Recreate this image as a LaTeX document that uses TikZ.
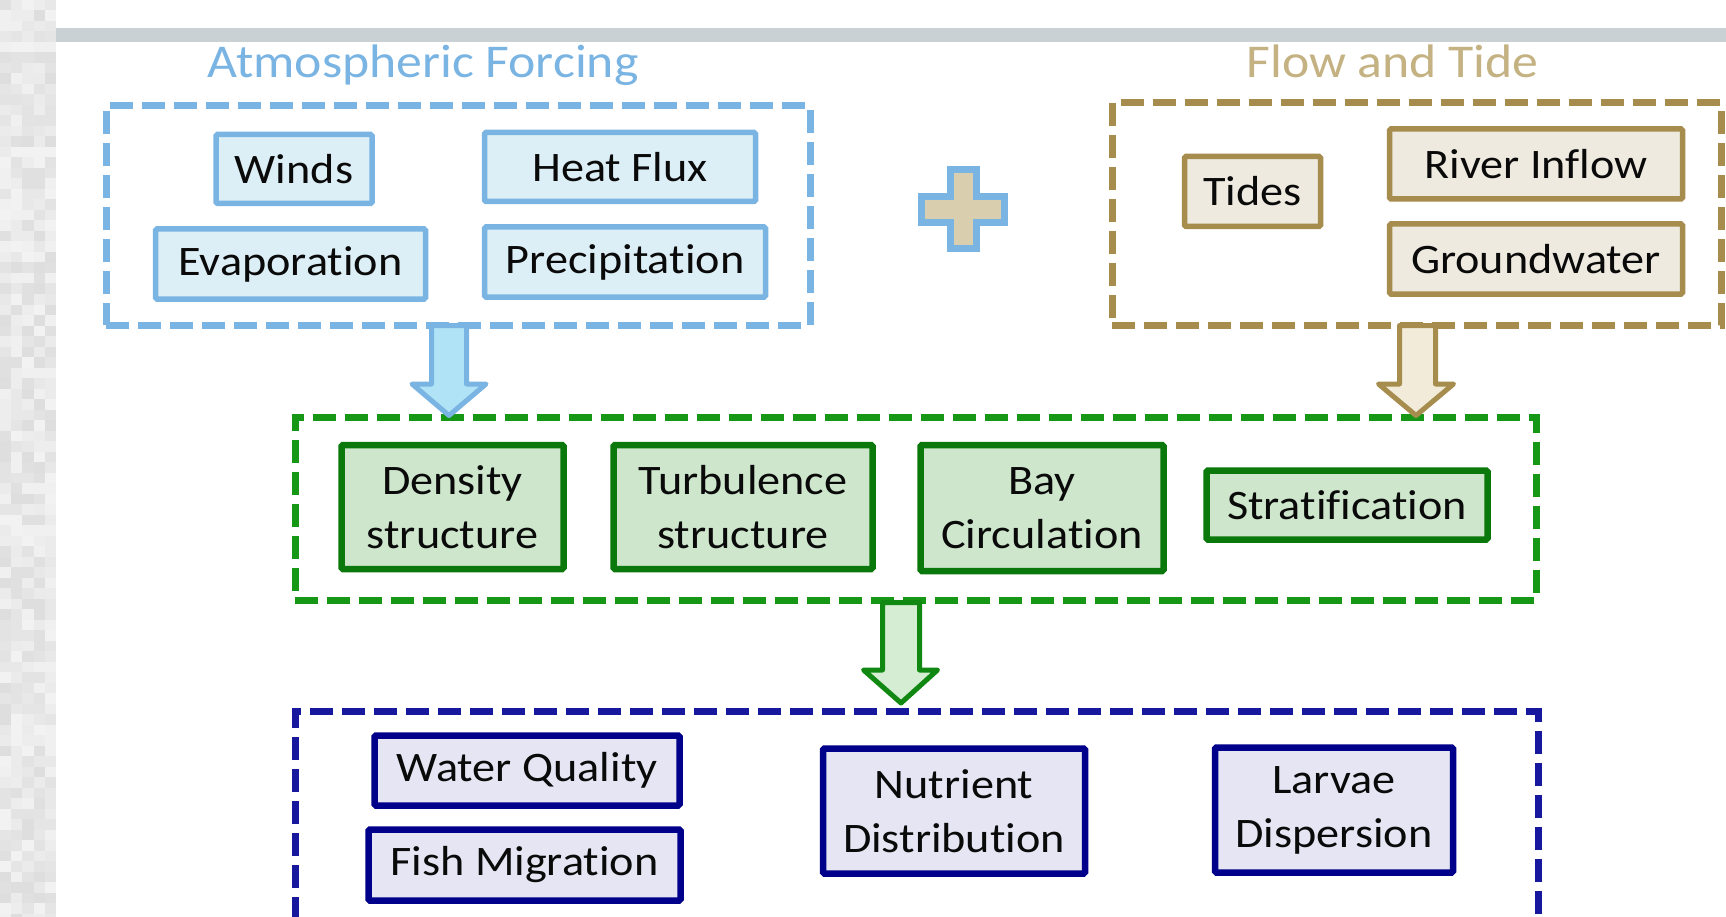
\documentclass[tikz,border=0pt]{standalone}
\usepackage{fontspec}
\setmainfont{Carlito}[FakeStretch=1.1, Ligatures=NoCommon]

% palette
\definecolor{txt}{HTML}{0A0A0A}
\definecolor{bar}{HTML}{C9D1D5}
\definecolor{ablue}{HTML}{7AB4E3}
\definecolor{afill}{HTML}{DCEEF6}
\definecolor{aarrow}{HTML}{B0E3F6}
\definecolor{tline}{HTML}{A68C4D}
\definecolor{ttitle}{HTML}{C4B283}
\definecolor{tfill}{HTML}{EEEAE0}
\definecolor{tarrow}{HTML}{F3EBDA}
\definecolor{plusfill}{HTML}{D9CEAE}
\definecolor{gdash}{HTML}{169816}
\definecolor{gline}{HTML}{0A780A}
\definecolor{gfill}{HTML}{CDE6CC}
\definecolor{garrow}{HTML}{D4EDD3}
\definecolor{garrowline}{HTML}{118811}
\definecolor{ndash}{HTML}{18189E}
\definecolor{nline}{HTML}{00008A}
\definecolor{nfill}{HTML}{E5E5F3}

\begin{document}
\begin{tikzpicture}[x=1pt, y=-1pt,
  every node/.style={text=txt, inner sep=0pt, align=center,
    font=\fontsize{42}{54}\selectfont},
  sz/.style 2 args={minimum width=#1pt, minimum height=#2pt},
  group/.style={draw=#1, line width=7pt, dash pattern=on 23pt off 9pt},
  item/.style 2 args={draw=#1, fill=#2, line width=5.5pt, rounded corners=1.5pt},
  bolditem/.style 2 args={draw=#1, fill=#2, line width=6.5pt, rounded corners=1.5pt},
  heading/.style={anchor=base, text=#1, font=\fontsize{47}{54}\selectfont},
  blockarrow/.style 2 args={draw=#1, fill=#2, line width=5pt, line join=round}]

\useasboundingbox (0,0) rectangle (1726,917);
\fill[white] (0,0) rectangle (1726,917);

% pixelated grey strip on the left
\pgfmathsetseed{7}
\foreach \c in {0,...,4}{
  \foreach \r in {0,...,87}{
    \pgfmathsetmacro{\g}{int(5+9*rnd)}
    \fill[black!\g] (\c*11.2,\r*10.5) rectangle ++(11.2,10.5);
  }
}

% header bar
\fill[bar] (56,28) rectangle (1726,42);

% group frames
\node[group=ablue, sz={704}{219}] (atm)  at (458,215.5) {};
\node[group=tline, sz={609}{222}] (flow) at (1416.5,214) {};
\node[group=gdash, sz={1241}{183}] (phys) at (915.5,508.5) {};
\node[group=ndash, sz={1243}{240}] (eco)  at (916.5,831) {};

% headings
\node[heading=ablue] (atmtitle)  at (423,77.7) {Atmospheric Forcing};
\node[heading=ttitle] (flowtitle) at (1392.5,77.7) {Flow and Tide};

% atmospheric forcing items
\node[item={ablue}{afill}, sz={156}{69}] (winds)  at (294,169)   {Winds};
\node[item={ablue}{afill}, sz={271}{69}] (heat)   at (620,167)   {Heat Flux};
\node[item={ablue}{afill}, sz={270}{70}] (evap)   at (290.5,264) {Evaporation};
\node[item={ablue}{afill}, sz={281}{70}] (precip) at (625,262)   {Precipitation};

% flow and tide items (kerns keep f-l and f-i as separate letters)
\node[item={tline}{tfill}, sz={136}{70}] (tides)  at (1252.5,191.5) {Tides};
\node[item={tline}{tfill}, sz={293}{70}] (river)  at (1536,164)     {River Inf\kern0ptlow};
\node[item={tline}{tfill}, sz={293}{70}] (ground) at (1536,259)     {Groundwater};

% physical response items
\node[bolditem={gline}{gfill}, sz={222}{124}] (density) at (452.5,507) {Density\\structure};
\node[bolditem={gline}{gfill}, sz={259}{124}] (turb)    at (743,507)   {Turbulence\\structure};
\node[bolditem={gline}{gfill}, sz={243}{126}] (bay)     at (1042,508)  {Bay\\Circulation};
\node[bolditem={gline}{gfill}, sz={281}{69}]  (strat)   at (1347,505)  {Stratif\kern0ptication};

% ecological items
\node[bolditem={nline}{nfill}, sz={305}{70}]  (water)    at (527,770.5) {Water Quality};
\node[bolditem={nline}{nfill}, sz={312}{71}]  (fish)     at (524.5,865) {Fish Migration};
\node[bolditem={nline}{nfill}, sz={262}{125}] (nutrient) at (954,811)   {Nutrient\\Distribution};
\node[bolditem={nline}{nfill}, sz={238}{125}] (larvae)   at (1334,810)  {Larvae\\Dispersion};

% plus sign between the forcing groups
\draw[draw=ablue, fill=plusfill, line width=7pt, line join=miter]
  (950.2,169.5) -- (976.5,169.5) -- (976.5,196.2) -- (1004.8,196.2)
  -- (1004.8,222.2) -- (976.5,222.2) -- (976.5,248.8) -- (950.2,248.8)
  -- (950.2,222.2) -- (921.8,222.2) -- (921.8,196.2) -- (950.2,196.2) -- cycle;

% block arrows between the groups
\draw[blockarrow={ablue}{aarrow}]
  (431.5,325.5) -- (466.5,325.5) -- (466.5,384) -- (486,384) -- (449,415.5)
  -- (412,384) -- (431.5,384) -- cycle;
\draw[blockarrow={tline}{tarrow}]
  (1399.5,325.5) -- (1435.5,325.5) -- (1435.5,384) -- (1453.5,384) -- (1416,415.5)
  -- (1378.5,384) -- (1399.5,384) -- cycle;
\draw[blockarrow={garrowline}{garrow}]
  (882.5,602.5) -- (919.5,602.5) -- (919.5,670) -- (937.5,670) -- (901,703)
  -- (863.5,670) -- (882.5,670) -- cycle;

\end{tikzpicture}
\end{document}
